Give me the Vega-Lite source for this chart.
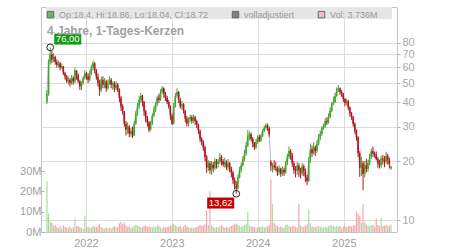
{
"$schema": "https://vega.github.io/schema/vega-lite/v6.json",
"width": 356, "height": 225,
"autosize": "none",
"padding": {"left": 41, "top": 7, "right": 53, "bottom": 18},
"background": "white",
"title": {"text": "4 Jahre, 1-Tages-Kerzen", "anchor": "start", "frame": "group", "orient": "top", "offset": -31, "dx": 6, "fontSize": 12, "fontWeight": "bold", "color": "#a0a0a0", "font": "Liberation Sans"},
"datasets": {"candles": [
{"d":"2021-07-19","o":40,"h":46,"l":39,"c":44,"v":25},
{"d":"2021-07-26","o":44,"h":66,"l":43,"c":64,"v":9},
{"d":"2021-08-02","o":64,"h":76,"l":62,"c":70,"v":5},
{"d":"2021-08-09","o":70,"h":73,"l":63,"c":66,"v":4.5},
{"d":"2021-08-16","o":66,"h":71,"l":64,"c":68,"v":3},
{"d":"2021-08-23","o":68,"h":69,"l":62,"c":64,"v":3.5},
{"d":"2021-08-30","o":64,"h":66,"l":60,"c":62,"v":2.5},
{"d":"2021-09-06","o":62,"h":65,"l":60,"c":63,"v":2},
{"d":"2021-09-13","o":63,"h":64,"l":58,"c":60,"v":3},
{"d":"2021-09-20","o":60,"h":63,"l":59,"c":61,"v":1.8},
{"d":"2021-09-27","o":61,"h":61,"l":55,"c":56,"v":3.2},
{"d":"2021-10-04","o":56,"h":57,"l":52,"c":54,"v":2.5},
{"d":"2021-10-11","o":54,"h":55,"l":50,"c":51,"v":2.2},
{"d":"2021-10-18","o":51,"h":54,"l":49,"c":52,"v":2},
{"d":"2021-10-25","o":52,"h":53,"l":48,"c":50,"v":2.6},
{"d":"2021-11-01","o":50,"h":55,"l":49,"c":53,"v":1.8},
{"d":"2021-11-08","o":53,"h":54,"l":49,"c":51,"v":2.4},
{"d":"2021-11-15","o":51,"h":60,"l":50,"c":58,"v":6.4},
{"d":"2021-11-22","o":58,"h":58,"l":52,"c":55,"v":2.8},
{"d":"2021-11-29","o":55,"h":56,"l":50,"c":51,"v":3},
{"d":"2021-12-06","o":51,"h":52,"l":46,"c":48,"v":2.5},
{"d":"2021-12-13","o":48,"h":51,"l":46,"c":50,"v":2},
{"d":"2021-12-20","o":50,"h":54,"l":49,"c":53,"v":1.6},
{"d":"2021-12-27","o":53,"h":58,"l":52,"c":56,"v":7.9},
{"d":"2022-01-03","o":56,"h":57,"l":52,"c":54,"v":2.2},
{"d":"2022-01-10","o":54,"h":56,"l":50,"c":52,"v":2.7},
{"d":"2022-01-17","o":52,"h":58,"l":51,"c":56,"v":2},
{"d":"2022-01-24","o":56,"h":62,"l":55,"c":60,"v":2.4},
{"d":"2022-01-31","o":60,"h":65,"l":58,"c":63,"v":3},
{"d":"2022-02-07","o":63,"h":64,"l":56,"c":58,"v":2.6},
{"d":"2022-02-14","o":58,"h":59,"l":52,"c":54,"v":2.4},
{"d":"2022-02-21","o":54,"h":56,"l":48,"c":50,"v":3.3},
{"d":"2022-02-28","o":50,"h":52,"l":43,"c":46,"v":4},
{"d":"2022-03-07","o":46,"h":54,"l":45,"c":52,"v":2.5},
{"d":"2022-03-14","o":52,"h":54,"l":47,"c":49,"v":2},
{"d":"2022-03-21","o":49,"h":53,"l":47,"c":51,"v":1.7},
{"d":"2022-03-28","o":51,"h":52,"l":45,"c":47,"v":2.2},
{"d":"2022-04-04","o":47,"h":52,"l":46,"c":50,"v":1.8},
{"d":"2022-04-11","o":50,"h":54,"l":49,"c":52,"v":2.1},
{"d":"2022-04-18","o":52,"h":53,"l":47,"c":49,"v":1.9},
{"d":"2022-04-25","o":49,"h":51,"l":46,"c":50,"v":2.4},
{"d":"2022-05-02","o":50,"h":51,"l":45,"c":47,"v":3},
{"d":"2022-05-09","o":47,"h":51,"l":46,"c":49,"v":2.2},
{"d":"2022-05-16","o":49,"h":50,"l":45,"c":46,"v":2.5},
{"d":"2022-05-23","o":46,"h":47,"l":40,"c":42,"v":4.2},
{"d":"2022-05-30","o":42,"h":43,"l":36,"c":38,"v":5},
{"d":"2022-06-06","o":38,"h":39,"l":34.5,"c":36,"v":3.8},
{"d":"2022-06-13","o":36,"h":36,"l":30,"c":31,"v":4.6},
{"d":"2022-06-20","o":31,"h":32,"l":27,"c":29,"v":3.5},
{"d":"2022-06-27","o":29,"h":31.5,"l":27.5,"c":30,"v":2.4},
{"d":"2022-07-04","o":30,"h":30.5,"l":26.5,"c":27.5,"v":2.8},
{"d":"2022-07-11","o":27.5,"h":29.5,"l":26.5,"c":28.5,"v":2},
{"d":"2022-07-18","o":28.5,"h":30,"l":26.2,"c":27,"v":2.3},
{"d":"2022-07-25","o":27,"h":32,"l":26.8,"c":31,"v":3},
{"d":"2022-08-01","o":31,"h":36,"l":30.5,"c":35,"v":3.6},
{"d":"2022-08-08","o":35,"h":39.5,"l":34,"c":38,"v":3.1},
{"d":"2022-08-15","o":38,"h":43,"l":37,"c":41,"v":2.8},
{"d":"2022-08-22","o":41,"h":44.5,"l":39.5,"c":43,"v":2.5},
{"d":"2022-08-29","o":43,"h":43.5,"l":38,"c":40,"v":2.2},
{"d":"2022-09-05","o":40,"h":40.5,"l":34,"c":36,"v":2.9},
{"d":"2022-09-12","o":36,"h":36.5,"l":31.5,"c":33,"v":3.2},
{"d":"2022-09-19","o":33,"h":34,"l":30,"c":31.5,"v":2.6},
{"d":"2022-09-26","o":31.5,"h":32,"l":28,"c":29,"v":2.7},
{"d":"2022-10-03","o":29,"h":32,"l":28.5,"c":31,"v":2.4},
{"d":"2022-10-10","o":31,"h":35,"l":30.5,"c":34,"v":2.2},
{"d":"2022-10-17","o":34,"h":38,"l":33.5,"c":36.5,"v":2.6},
{"d":"2022-10-24","o":36.5,"h":40,"l":35.5,"c":39,"v":2.4},
{"d":"2022-10-31","o":39,"h":43,"l":38,"c":42,"v":3.4},
{"d":"2022-11-07","o":42,"h":44,"l":39.5,"c":41,"v":3},
{"d":"2022-11-14","o":41,"h":46.5,"l":40.5,"c":45,"v":2.3},
{"d":"2022-11-21","o":45,"h":48.3,"l":44,"c":47,"v":1.8},
{"d":"2022-11-28","o":47,"h":47.5,"l":42,"c":44,"v":2.5},
{"d":"2022-12-05","o":44,"h":45,"l":40.5,"c":42,"v":2.2},
{"d":"2022-12-12","o":42,"h":43,"l":39,"c":40,"v":2.4},
{"d":"2022-12-19","o":40,"h":41,"l":37,"c":38,"v":2.6},
{"d":"2022-12-26","o":38,"h":38.5,"l":32.5,"c":34,"v":3.1},
{"d":"2023-01-02","o":34,"h":35,"l":30.5,"c":31,"v":3.4},
{"d":"2023-01-09","o":31,"h":39.5,"l":30.8,"c":38,"v":3.9},
{"d":"2023-01-16","o":38,"h":44.5,"l":37.5,"c":43,"v":3.2},
{"d":"2023-01-23","o":43,"h":47,"l":42,"c":45,"v":2.8},
{"d":"2023-01-30","o":45,"h":45.5,"l":39.5,"c":41,"v":2.6},
{"d":"2023-02-06","o":41,"h":42,"l":37,"c":38,"v":2.9},
{"d":"2023-02-13","o":38,"h":40.5,"l":36.5,"c":39,"v":2.1},
{"d":"2023-02-20","o":39,"h":39.5,"l":35,"c":36,"v":2.7},
{"d":"2023-02-27","o":36,"h":36.5,"l":31.5,"c":33,"v":3.5},
{"d":"2023-03-06","o":33,"h":34,"l":30,"c":31,"v":2.8},
{"d":"2023-03-13","o":31,"h":33.5,"l":30,"c":32.5,"v":2.3},
{"d":"2023-03-20","o":32.5,"h":34.5,"l":31.5,"c":33.5,"v":2},
{"d":"2023-03-27","o":33.5,"h":34.3,"l":31,"c":32,"v":2.1},
{"d":"2023-04-03","o":32,"h":34.5,"l":31.3,"c":33.5,"v":1.9},
{"d":"2023-04-10","o":33.5,"h":34,"l":30.5,"c":32,"v":2.2},
{"d":"2023-04-17","o":32,"h":32.5,"l":29.5,"c":30.5,"v":2.4},
{"d":"2023-04-24","o":30.5,"h":31,"l":27.5,"c":28.5,"v":2.9},
{"d":"2023-05-01","o":28.5,"h":29,"l":25,"c":26,"v":3.4},
{"d":"2023-05-08","o":26,"h":26.5,"l":24,"c":25,"v":3},
{"d":"2023-05-15","o":25,"h":25.5,"l":22.5,"c":23.5,"v":3.2},
{"d":"2023-05-22","o":23.5,"h":24,"l":20,"c":21,"v":3.8},
{"d":"2023-05-29","o":21,"h":21.5,"l":17.4,"c":18.5,"v":10.4},
{"d":"2023-06-05","o":18.5,"h":20.2,"l":17.8,"c":19.5,"v":3.5},
{"d":"2023-06-12","o":19.5,"h":20,"l":17.2,"c":18,"v":20},
{"d":"2023-06-19","o":18,"h":20,"l":17,"c":19.2,"v":3.1},
{"d":"2023-06-26","o":19.2,"h":19.8,"l":17.5,"c":18.4,"v":2.5},
{"d":"2023-07-03","o":18.4,"h":20.7,"l":18,"c":20,"v":2},
{"d":"2023-07-10","o":20,"h":20.5,"l":18.3,"c":19.3,"v":2.3},
{"d":"2023-07-17","o":19.3,"h":20.5,"l":18.5,"c":19.8,"v":2.2},
{"d":"2023-07-24","o":19.8,"h":22,"l":19.3,"c":21,"v":2.8},
{"d":"2023-07-31","o":21,"h":21.5,"l":19,"c":20,"v":3.3},
{"d":"2023-08-07","o":20,"h":20.5,"l":18.7,"c":19.2,"v":2.6},
{"d":"2023-08-14","o":19.2,"h":20.8,"l":18.5,"c":19.8,"v":2.1},
{"d":"2023-08-21","o":19.8,"h":20.2,"l":18,"c":18.6,"v":2.4},
{"d":"2023-08-28","o":18.6,"h":20.5,"l":17.8,"c":19.5,"v":2.2},
{"d":"2023-09-04","o":19.5,"h":19.8,"l":17.5,"c":18.2,"v":2.5},
{"d":"2023-09-11","o":18.2,"h":18.7,"l":16.5,"c":17.5,"v":3},
{"d":"2023-09-18","o":17.5,"h":17.8,"l":15.3,"c":16,"v":3.4},
{"d":"2023-09-25","o":16,"h":16.5,"l":14.3,"c":15,"v":3.8},
{"d":"2023-10-02","o":15,"h":15.8,"l":13.62,"c":14.5,"v":4.2},
{"d":"2023-10-09","o":14.5,"h":17,"l":14.3,"c":16.5,"v":3.6},
{"d":"2023-10-16","o":16.5,"h":18.7,"l":16.3,"c":18,"v":3},
{"d":"2023-10-23","o":18,"h":19.6,"l":17.5,"c":19,"v":2.6},
{"d":"2023-10-30","o":19,"h":21.2,"l":18.7,"c":20.5,"v":2.9},
{"d":"2023-11-06","o":20.5,"h":22.8,"l":20,"c":21.8,"v":3.5},
{"d":"2023-11-13","o":21.8,"h":25,"l":21.3,"c":24,"v":4},
{"d":"2023-11-20","o":24,"h":28.8,"l":23.5,"c":27,"v":10},
{"d":"2023-11-27","o":27,"h":28.3,"l":25.5,"c":27.5,"v":3.2},
{"d":"2023-12-04","o":27.5,"h":28,"l":25.2,"c":26,"v":2.6},
{"d":"2023-12-11","o":26,"h":26.5,"l":23.5,"c":24.5,"v":2.8},
{"d":"2023-12-18","o":24.5,"h":25,"l":22.8,"c":23.5,"v":2.4},
{"d":"2023-12-25","o":23.5,"h":25.8,"l":23,"c":25,"v":1.9},
{"d":"2024-01-01","o":25,"h":27,"l":24.5,"c":26.5,"v":2.5},
{"d":"2024-01-08","o":26.5,"h":27.2,"l":25,"c":25.5,"v":2.3},
{"d":"2024-01-15","o":25.5,"h":27.5,"l":25,"c":27,"v":2.6},
{"d":"2024-01-22","o":27,"h":29.2,"l":26.5,"c":28.5,"v":2.8},
{"d":"2024-01-29","o":28.5,"h":30.3,"l":28,"c":29.5,"v":2.4},
{"d":"2024-02-05","o":29.5,"h":31.2,"l":28.8,"c":30.5,"v":2.6},
{"d":"2024-02-12","o":30.5,"h":31,"l":28.5,"c":29.5,"v":2.9},
{"d":"2024-02-19","o":29.5,"h":30,"l":26.6,"c":27.5,"v":3.3},
{"d":"2024-02-26","o":19.8,"h":20.2,"l":17.8,"c":19,"v":26},
{"d":"2024-03-04","o":18.2,"h":19.6,"l":17.5,"c":19,"v":13.7},
{"d":"2024-03-11","o":19,"h":20.2,"l":18,"c":18.6,"v":4.5},
{"d":"2024-03-18","o":18.6,"h":19.8,"l":17.8,"c":18.5,"v":3.2},
{"d":"2024-03-25","o":18.5,"h":18.8,"l":16.8,"c":17.5,"v":3},
{"d":"2024-04-01","o":17.5,"h":19,"l":17,"c":18.3,"v":2.5},
{"d":"2024-04-08","o":18.3,"h":18.5,"l":16.6,"c":17.2,"v":2.7},
{"d":"2024-04-15","o":17.2,"h":18.8,"l":16.8,"c":18,"v":2.3},
{"d":"2024-04-22","o":18,"h":18.5,"l":16.8,"c":17.5,"v":2.1},
{"d":"2024-04-29","o":17.5,"h":20,"l":17.2,"c":19.5,"v":3.4},
{"d":"2024-05-06","o":19.5,"h":21.8,"l":19,"c":21,"v":3.7},
{"d":"2024-05-13","o":21,"h":23.7,"l":20.5,"c":22.5,"v":3.1},
{"d":"2024-05-20","o":22.5,"h":23,"l":20.3,"c":21.5,"v":2.6},
{"d":"2024-05-27","o":21.5,"h":22,"l":18.7,"c":19.5,"v":2.9},
{"d":"2024-06-03","o":19.5,"h":20,"l":17.2,"c":18,"v":3},
{"d":"2024-06-10","o":18,"h":18.8,"l":16.5,"c":17.8,"v":2.6},
{"d":"2024-06-17","o":17.8,"h":19.8,"l":17,"c":19,"v":2.2},
{"d":"2024-06-24","o":19,"h":19.5,"l":16.6,"c":18,"v":13.7},
{"d":"2024-07-01","o":18,"h":18.5,"l":16.3,"c":17.3,"v":3.2},
{"d":"2024-07-08","o":17.3,"h":19.6,"l":16.8,"c":18.8,"v":2.4},
{"d":"2024-07-15","o":18.8,"h":19.2,"l":16.8,"c":17.8,"v":2.6},
{"d":"2024-07-22","o":17.8,"h":18.3,"l":15.6,"c":16.5,"v":3.1},
{"d":"2024-07-29","o":16.5,"h":17,"l":15.1,"c":15.8,"v":3.8},
{"d":"2024-08-05","o":15.8,"h":21,"l":15.6,"c":20,"v":11},
{"d":"2024-08-12","o":20,"h":24.6,"l":19.5,"c":23,"v":4.2},
{"d":"2024-08-19","o":23,"h":24,"l":21,"c":22,"v":2.8},
{"d":"2024-08-26","o":22,"h":25,"l":21.5,"c":23.5,"v":2.5},
{"d":"2024-09-02","o":23.5,"h":24,"l":21.2,"c":22.5,"v":2.3},
{"d":"2024-09-09","o":22.5,"h":25.5,"l":22,"c":24.5,"v":2.7},
{"d":"2024-09-16","o":24.5,"h":27.5,"l":24,"c":26.5,"v":3},
{"d":"2024-09-23","o":26.5,"h":28.5,"l":25.5,"c":27.5,"v":2.6},
{"d":"2024-09-30","o":27.5,"h":30.2,"l":26.8,"c":29.5,"v":2.4},
{"d":"2024-10-07","o":29.5,"h":31,"l":28.8,"c":30,"v":2.2},
{"d":"2024-10-14","o":30,"h":33,"l":29.5,"c":32,"v":2.7},
{"d":"2024-10-21","o":32,"h":33.5,"l":30.5,"c":31.5,"v":2.3},
{"d":"2024-10-28","o":31.5,"h":35,"l":31,"c":33.5,"v":2.9},
{"d":"2024-11-04","o":33.5,"h":37.5,"l":33,"c":36,"v":3.4},
{"d":"2024-11-11","o":36,"h":40,"l":35.5,"c":39,"v":3.1},
{"d":"2024-11-18","o":39,"h":42.6,"l":38.5,"c":40,"v":2.8},
{"d":"2024-11-25","o":40,"h":44.5,"l":39.5,"c":43,"v":2.6},
{"d":"2024-12-02","o":43,"h":47.5,"l":42.5,"c":46.5,"v":3},
{"d":"2024-12-09","o":46.5,"h":48.8,"l":45,"c":47,"v":2.7},
{"d":"2024-12-16","o":47,"h":47.5,"l":43.5,"c":45,"v":2.9},
{"d":"2024-12-23","o":45,"h":46,"l":42.5,"c":44,"v":2},
{"d":"2024-12-30","o":44,"h":44.5,"l":40,"c":41.5,"v":2.6},
{"d":"2025-01-06","o":41.5,"h":42,"l":38,"c":39.5,"v":3},
{"d":"2025-01-13","o":39.5,"h":41.5,"l":38.5,"c":40.5,"v":2.4},
{"d":"2025-01-20","o":40.5,"h":41,"l":36.5,"c":37.5,"v":2.8},
{"d":"2025-01-27","o":37.5,"h":38,"l":33.7,"c":35,"v":3.2},
{"d":"2025-02-03","o":35,"h":35.5,"l":32.5,"c":33.5,"v":2.7},
{"d":"2025-02-10","o":33.5,"h":34,"l":30,"c":31,"v":3.1},
{"d":"2025-02-17","o":31,"h":31.5,"l":27.5,"c":28.5,"v":3.5},
{"d":"2025-02-24","o":28.5,"h":29,"l":25.5,"c":26.5,"v":10},
{"d":"2025-03-03","o":26.5,"h":26.8,"l":21,"c":22,"v":9},
{"d":"2025-03-10","o":22,"h":22.5,"l":16.6,"c":18.5,"v":8},
{"d":"2025-03-17","o":18.5,"h":21,"l":16.8,"c":19.5,"v":4.5},
{"d":"2025-03-24","o":19.5,"h":20,"l":14.2,"c":17.2,"v":13.7},
{"d":"2025-03-31","o":17.2,"h":20,"l":16.5,"c":19,"v":4.6},
{"d":"2025-04-07","o":19,"h":20.5,"l":17.5,"c":18.2,"v":3.8},
{"d":"2025-04-14","o":18.2,"h":20.2,"l":17.6,"c":19.5,"v":3.2},
{"d":"2025-04-21","o":19.5,"h":21.8,"l":19,"c":21,"v":2.8},
{"d":"2025-04-28","o":21,"h":23.2,"l":20.5,"c":22.5,"v":3.3},
{"d":"2025-05-05","o":22.5,"h":23.7,"l":21,"c":21.8,"v":3.5},
{"d":"2025-05-12","o":21.8,"h":22.3,"l":20.8,"c":21.5,"v":2.6},
{"d":"2025-05-19","o":21.5,"h":22.4,"l":20.2,"c":20.5,"v":6.8},
{"d":"2025-05-26","o":20.5,"h":21,"l":18.5,"c":19.5,"v":3.4},
{"d":"2025-06-02","o":19.5,"h":20.3,"l":18.3,"c":19,"v":2.9},
{"d":"2025-06-09","o":19,"h":21.3,"l":18.5,"c":20.6,"v":7},
{"d":"2025-06-16","o":20.6,"h":21.5,"l":19.2,"c":20.3,"v":3},
{"d":"2025-06-23","o":20.3,"h":21.2,"l":18.6,"c":19.8,"v":3.2},
{"d":"2025-06-30","o":19.8,"h":22.3,"l":19.3,"c":21.3,"v":3.6},
{"d":"2025-07-07","o":21.3,"h":21.8,"l":19.2,"c":20.2,"v":2.8},
{"d":"2025-07-14","o":20.2,"h":20.8,"l":18.3,"c":19.2,"v":3.1},
{"d":"2025-07-21","o":18.4,"h":18.86,"l":18.04,"c":18.72,"v":3.736}
]},
"layer": [
{
"data": {"name": "candles"},
"mark": {"type": "bar", "size": 1.2},
"encoding": {
"x": {"field": "d", "type": "temporal", "scale": {"domain": [{"year": 2021, "month": 7, "date": 15}, {"year": 2025, "month": 7, "date": 25}]}, "axis": {"format": "%Y", "tickCount": {"interval": "year", "step": 1}, "grid": true, "ticks": false, "labelPadding": 5, "labelColor": "#a0a0a0"}},
"y": {"field": "v", "type": "quantitative", "scale": {"domain": [0, 110.7], "nice": false}, "axis": {"orient": "left", "values": [0, 10, 20, 30], "labelExpr": "datum.value + 'M'", "grid": false, "tickSize": -3, "labelPadding": 3, "labelColor": "#a0a0a0"}},
"color": {"condition": {"test": "datum.c >= datum.o", "value": "#a8dca0"}, "value": "#f3a6ac"}
}
},
{
"layer": [
{
"data": {"name": "candles"},
"mark": {"type": "line", "color": "#b8b8b8", "strokeWidth": 1},
"encoding": {
"x": {"field": "d", "type": "temporal"},
"y": {"field": "c", "type": "quantitative", "scale": {"type": "log", "domain": [8.69, 122.1], "nice": false}, "axis": {"orient": "right", "values": [10, 20, 30, 40, 50, 60, 70, 80], "grid": true, "tickSize": 3, "labelPadding": 2, "labelColor": "#aaaaaa"}}
}
},
{
"data": {"name": "candles"},
"mark": {"type": "rule", "strokeWidth": 1},
"encoding": {
"x": {"field": "d", "type": "temporal"},
"y": {"field": "l", "type": "quantitative"},
"y2": {"field": "h"},
"color": {"condition": {"test": "datum.c >= datum.o", "value": "#3fa82c"}, "value": "#b8111e"}
}
},
{
"data": {"name": "candles"},
"mark": {"type": "bar", "size": 1.5},
"encoding": {
"x": {"field": "d", "type": "temporal"},
"y": {"field": "o", "type": "quantitative"},
"y2": {"field": "c"},
"color": {"condition": {"test": "datum.c >= datum.o", "value": "#3fa82c"}, "value": "#b8111e"}
}
},
{
"data": {"values": [{"k": "Op:18.4, Hi:18.86, Lo:18.04, Cl:18.72"}, {"k": "volladjustiert"}, {"k": "Vol: 3.736M"}]},
"mark": {"type": "point", "filled": true, "size": 10},
"encoding": {
"x": {"datum": {"year": 2023, "month": 1, "date": 1}, "type": "temporal"},
"y": {"datum": 114, "type": "quantitative"},
"fill": {"field": "k", "type": "nominal", "scale": {"domain": ["Op:18.4, Hi:18.86, Lo:18.04, Cl:18.72", "volladjustiert", "Vol: 3.736M"], "range": ["#2ea82e", "#555555", "#f4b0b6"]},
"legend": {"orient": "none", "legendX": 5, "legendY": 3, "direction": "horizontal", "title": null, "symbolType": "square", "symbolSize": 42, "symbolStrokeColor": "#333333", "symbolStrokeWidth": 1, "labelFontSize": 9, "labelColor": "#999999", "labelFont": "Liberation Sans", "columnPadding": 21, "labelOffset": 4, "labelLimit": 300}}
}
},
{
"data": {"values": [{}]},
"mark": {"type": "rect", "color": "#e6e6e6"},
"encoding": {
"x": {"datum": {"year": 2021, "month": 7, "date": 15}, "type": "temporal"},
"x2": {"datum": {"year": 2025, "month": 7, "date": 25}},
"y": {"datum": 122.1, "type": "quantitative"},
"y2": {"datum": 106}
}
},
{
"data": {"values": [{"d": "2021-08-02", "p": 76, "t": "76,00"}]},
"layer": [
{"mark": {"type": "point", "shape": "circle", "size": 45, "filled": false, "stroke": "#222222", "strokeWidth": 1, "opacity": 1},
 "encoding": {"x": {"field": "d", "type": "temporal"}, "y": {"field": "p", "type": "quantitative"}}},
{"mark": {"type": "point", "shape": "M0.4,-1.38L3.1,-1.38L3.1,-0.28L0.4,-0.28Z", "size": 400, "filled": true, "fill": "#139b13", "strokeWidth": 0, "opacity": 1},
 "encoding": {"x": {"field": "d", "type": "temporal"}, "y": {"field": "p", "type": "quantitative"}}},
{"mark": {"type": "text", "dx": 17.5, "dy": -8.3, "color": "white", "fontSize": 9.5, "font": "Liberation Sans", "align": "center", "baseline": "middle"},
 "encoding": {"x": {"field": "d", "type": "temporal"}, "y": {"field": "p", "type": "quantitative"}, "text": {"field": "t"}}}
]
},
{
"data": {"values": [{"d": "2023-10-02", "p": 13.62, "t": "13,62"}]},
"layer": [
{"mark": {"type": "point", "shape": "circle", "size": 45, "filled": false, "stroke": "#222222", "strokeWidth": 1, "opacity": 1},
 "encoding": {"x": {"field": "d", "type": "temporal"}, "y": {"field": "p", "type": "quantitative"}}},
{"mark": {"type": "point", "shape": "M-2.91,0.38L-0.21,0.38L-0.21,1.48L-2.91,1.48Z", "size": 400, "filled": true, "fill": "#c40000", "strokeWidth": 0, "opacity": 1},
 "encoding": {"x": {"field": "d", "type": "temporal"}, "y": {"field": "p", "type": "quantitative"}}},
{"mark": {"type": "text", "dx": -15.6, "dy": 9.3, "color": "white", "fontSize": 9.5, "font": "Liberation Sans", "align": "center", "baseline": "middle"},
 "encoding": {"x": {"field": "d", "type": "temporal"}, "y": {"field": "p", "type": "quantitative"}, "text": {"field": "t"}}}
]
}
]
}
],
"resolve": {"scale": {"y": "independent"}},
"config": {
"view": {"stroke": "#c4c4c4", "strokeWidth": 1},
"font": "Liberation Sans",
"axis": {"labelFont": "Liberation Sans", "labelFontSize": 11, "labelColor": "#a0a0a0", "gridColor": "#dcdcdc", "gridWidth": 1, "tickColor": "#b0b0b0", "domain": false, "title": null}
}
}
